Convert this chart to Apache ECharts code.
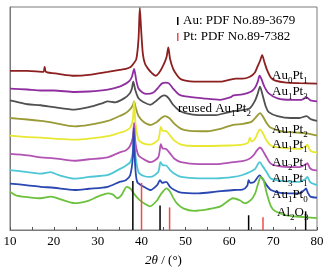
<!DOCTYPE html>
<html><head><meta charset="utf-8">
<script src="https://cdn.jsdelivr.net/npm/echarts@6/dist/echarts.min.js"></script>
<style>html,body{margin:0;padding:0;background:#fff}#c{width:332px;height:272px}</style>
</head><body><div id="c"></div>
<script>
var xTicks = [10, 20, 30, 40, 50, 60, 70, 80];
var seriesNames = ['Au0Pt1', 'Au1Pt3', 'reused Au1Pt2', 'Au1Pt2', 'Au1Pt1', 'Au2Pt1', 'Au3Pt1', 'Au1Pt0', 'Al2O3'];
var au0pt1 = [[10,162],[14,162],[17.6,161],[17.9,166],[18.2,161],[21,159],[24.7,157],[28,158],[32.3,161],[35,163],[36.4,164],[37.5,166],[38.1,169],[38.8,174],[39.3,194],[39.6,226],[39.9,204],[40.3,179],[40.8,169],[41.5,164],[42.3,160],[43.2,157],[44,160],[45,168],[45.7,176],[46.1,186],[46.5,174],[47.2,164],[48,158],[48.8,154],[50,152],[52,151],[55,151],[58,151],[60.2,153],[61.5,154],[63,154],[64.7,156],[65.8,160],[66.5,167],[67,172],[67.5,178],[68,171],[68.6,163],[69.5,155],[70.5,152],[73,150],[76,149.5],[80,149]];
var au1pt3 = [[10,144],[14,143],[17,142],[20,142],[24.7,140.5],[28,141],[32.3,143],[35,146],[36.4,149],[37.3,152],[37.8,156],[38.3,164],[38.8,152],[39.3,144],[40.2,140],[41.2,138.5],[42.7,140],[43.8,145],[44.6,149],[45.5,150],[46.3,149],[47.2,144],[48.5,138],[50,136],[54,134],[57.9,132.5],[60.2,135],[61,137],[63,138],[65,141],[65.9,145],[66.5,151],[66.9,157],[67.3,154],[68,146],[69,139],[71,134],[74,132.5],[76.5,132.5],[77.6,135],[78.5,132],[80,131]];
var reusedAu1pt2 = [[10,132],[12,130],[14,128],[17,127],[20,125],[24.7,122.5],[28,125],[31,129],[32.3,131],[34,130],[36,134],[37.3,139],[37.8,144],[38.1,151],[38.6,142],[39.3,134],[40.3,130.5],[42,127.5],[43.5,132],[44.5,136],[45.3,137],[46.2,134],[47.2,127.5],[48.5,122],[50,119],[53,117],[57,117],[59,119],[61,121],[63,122],[64.7,124],[65.9,132],[66.5,139],[67,146],[67.5,139],[68.3,126],[69,120],[71,116],[74,114],[76,114],[77.6,116],[78.5,113],[80,111]];
var au1pt2 = [[10,114],[14,112.5],[17,111],[20,109],[24.7,105.5],[28,107],[32.3,111],[35,116],[36.4,119],[37.4,123],[38,127],[38.3,131],[38.7,124],[39.3,116],[40.5,110],[42,107],[43.5,110],[44.5,114],[45.3,116],[46.3,114],[47.5,108],[49,103],[51,101],[55,100.5],[58,103],[60.9,107],[63,108],[65,110],[65.9,114],[66.5,117],[67,119],[67.6,116],[68.5,109],[69.5,104],[72,100.5],[76,99],[78,98],[80,96]];
var au1pt1 = [[10,96],[14,94.5],[17,94],[20,93],[24.7,92],[28,93],[32.3,95.5],[35,99],[36.4,101],[37.4,104],[38,112],[38.3,131],[38.6,109],[39.3,92],[40.5,88],[42,87],[43.8,92],[44.4,105],[44.8,101],[45.5,101],[46.5,96],[47.5,91],[49,87],[52,85.5],[56,85.5],[60,86],[63,87],[64.3,89],[64.7,94],[65.1,90],[66,94],[66.5,99],[67,102.5],[67.6,99],[68.5,91],[69.5,86],[72,83.5],[76,82.5],[77.4,85],[77.8,87],[78.3,82],[79,79.5],[80,79]];
var au2pt1 = [[10,77.5],[14,76],[17,74],[20,73],[24.7,70.5],[28,72],[32.3,74],[35,79],[36.4,81],[37.3,85],[38,94],[38.3,109],[38.6,89],[39.3,76],[40.5,72],[42,69],[43.8,74],[44.4,87.5],[44.8,83],[45.6,82.5],[46.5,78],[47.5,72.5],[49,69],[53,67],[57,67],[60.9,69],[63,70],[64.5,72.3],[65.5,76],[66.3,81],[67,84],[67.6,81],[68.5,74],[69.5,67.5],[72,64.5],[76,64],[77.5,67],[77.8,68],[78.4,63],[79,61.3],[80,60.7]];
var au3pt1 = [[10,61],[14,59],[17,57.3],[19.3,59],[21,56],[24.7,52.3],[28,54],[32.3,56],[35,62],[36.4,65.5],[37.4,69],[38,79],[38.3,94],[38.6,76],[39.3,59],[40.5,55],[42,54],[43.8,59],[44.3,69],[44.8,66],[45.6,65.7],[46.5,61],[47.5,57.3],[49,54],[53,52.5],[57,52.5],[61,54],[63,56],[64.7,59],[65.9,62.3],[66.9,69],[67.6,65],[68.5,59],[69.5,52.3],[72,50],[76,49],[77.4,52],[77.8,54],[78.4,49],[79,47.3],[80,45.7]];
var au1pt0 = [[10,47.3],[14,45.5],[17,44],[20,43],[24.7,40.7],[28,42],[32.3,44],[35,49],[36.4,50.7],[37.4,55.7],[38,74],[38.2,104],[38.5,69],[39,49],[40.5,44],[42,40.7],[43.6,46],[44.2,50.7],[44.7,48],[45.6,49],[46.5,44],[47.5,40.7],[49,38],[53,37.3],[57,39],[61,40.7],[63,41],[64.1,45],[64.4,50.7],[64.8,48],[65.7,49],[66.9,55.7],[67.6,52],[68.5,45.7],[69.5,40.7],[72,37.5],[76,37.3],[77.2,41],[77.5,42.3],[77.9,38],[78.5,34],[80,33]];
var al2o3 = [[10,39],[11.5,35],[14,33.5],[17,32.3],[19.3,34],[21,32],[24.7,27.3],[28,30],[30,34],[32.3,37.3],[33.5,36],[34.5,32.3],[35.5,36],[36.6,44],[37.5,42],[38.2,37.3],[39.5,30.7],[41,26],[41.9,24],[43.5,30],[44.5,37],[45.7,42.3],[46.5,39],[47.2,33],[48,27.3],[49.5,22],[52,19.5],[55,21],[58,24],[60.9,32.3],[62.5,30],[63.5,27.3],[65,31],[65.9,37.3],[66.5,46],[67.2,54],[67.8,51],[68.5,38],[69.5,24],[70.5,19],[73,15],[76,13.5],[80,12]];
var auRef = [[38.2,50],[44.4,25],[64.6,15],[77.6,19]];
var ptRef = [[39.8,48],[46.2,23],[67.5,13]];

var curves = [au0pt1, au1pt3, reusedAu1pt2, au1pt2, au1pt1, au2pt1, au3pt1, au1pt0, al2o3];
var colors = ['#8c1f1f', '#8f2f9f', '#505050', '#9a9a36', '#e8e832', '#b253b4', '#4fc6d6', '#2a47b2', '#6cc23e'];

var series = [];
curves.forEach(function (d, i) {
  series.push({type: 'line', name: seriesNames[i], data: d, showSymbol: false, smooth: 0.25,
    lineStyle: {color: colors[i], width: 1.8}, z: 2, silent: true});
});
series.push({type: 'bar', name: 'Au', data: auRef, barWidth: 1.5, itemStyle: {color: '#000'}, z: 3});
series.push({type: 'bar', name: 'Pt', data: ptRef, barWidth: 1.5, itemStyle: {color: '#f24a4a'}, z: 3});

var F = 'Liberation Serif, Times New Roman, serif';
function lab(t) {
  return t.replace(/([A-Za-z]+)(\d)/g, '{a|$1}{b|$2}');
}
var labelPos = [[272,77],[272,93],[178,110],[272,131],[272,146],[272,164],[272,180],[272,196],[277,214]];
var graphics = [];
seriesNames.forEach(function (n, i) {
  var txt = n.indexOf('reused') === 0 ? '{a|reused }' + lab(n.slice(7)) : lab(n);
  graphics.push({type: 'text', left: labelPos[i][0], top: labelPos[i][1] - 8, z: 10,
    style: {text: txt, fill: '#000', font: '13px ' + F,
      rich: {a: {fontSize: 13, fontFamily: F, fill: '#000', lineHeight: 16, verticalAlign: 'bottom'},
             b: {fontSize: 9, fontFamily: F, fill: '#000', lineHeight: 16, verticalAlign: 'bottom', padding: [0,0,-3,0]}}}});
});
graphics.push({type: 'rect', shape: {x: 177, y: 17, width: 1.5, height: 8}, style: {fill: '#000'}});
graphics.push({type: 'rect', shape: {x: 177, y: 33, width: 1.5, height: 8}, style: {fill: '#f24a4a'}});
graphics.push({type: 'text', left: 183, top: 14, style: {text: 'Au: PDF No.89-3679', font: '13px ' + F, fill: '#000'}});
graphics.push({type: 'text', left: 183, top: 30, style: {text: 'Pt: PDF No.89-7382', font: '13px ' + F, fill: '#000'}});

var chart = echarts.init(document.getElementById('c'), null, {renderer: 'canvas'});
chart.setOption({
  animation: false,
  backgroundColor: '#fff',
  grid: {left: 10, right: 15, top: 7, bottom: 38, show: true, borderColor: '#7a7a7a', borderWidth: 1},
  xAxis: {type: 'value', min: 10, max: 80, interval: 10,
    axisLine: {show: true, lineStyle: {color: '#7a7a7a'}},
    axisTick: {show: true, inside: true, length: 3, lineStyle: {color: '#555'}},
    minorTick: {show: true, splitNumber: 2, length: 3, lineStyle: {color: '#555'}},
    splitLine: {show: false},
    axisLabel: {color: '#000', fontSize: 13, fontFamily: F, margin: 5,
      formatter: function (v) { return xTicks.indexOf(v) >= 0 ? String(v) : ''; }},
    name: '{i|2θ} / (°)', nameLocation: 'middle', nameGap: 24,
    nameTextStyle: {color: '#000', fontSize: 13, fontFamily: F,
      rich: {i: {fontStyle: 'italic', fontSize: 13, fontFamily: F, color: '#000'}}}},
  yAxis: {type: 'value', min: 0, max: 227, show: true,
    axisLine: {show: true, lineStyle: {color: '#7a7a7a'}}, axisTick: {show: false},
    axisLabel: {show: false}, splitLine: {show: false}},
  series: series,
  graphic: graphics
});
</script></body></html>
